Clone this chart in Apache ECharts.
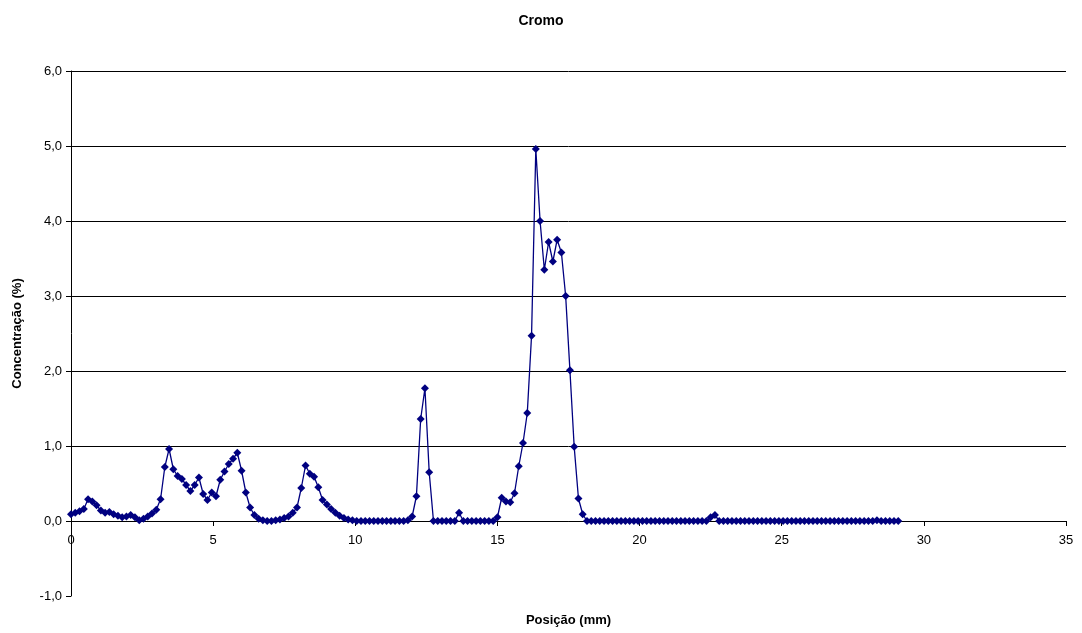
<!DOCTYPE html>
<html>
<head>
<meta charset="utf-8">
<script src="https://cdn.jsdelivr.net/npm/echarts@6/dist/echarts.min.js"></script>
<style>
html,body{margin:0;padding:0;background:#fff;}
#chart{width:1082px;height:633px;}
</style>
</head>
<body>
<div id="chart"></div>
<script>
// Sampling of the position axis (mm): first point and step between points
const positionStart = 0;
const positionStep = 0.15;

// Concentração (%), one value per sample
const concentration = [
  0.09,0.11,0.13,0.16,0.29,0.26,0.21,0.14,0.11,0.12,
  0.09,0.07,0.05,0.06,0.08,0.05,0.01,0.03,0.06,0.10,
  0.15,0.29,0.72,0.96,0.69,0.60,0.56,0.48,0.40,0.48,
  0.58,0.36,0.28,0.38,0.33,0.55,0.66,0.76,0.83,0.91,
  0.67,0.38,0.18,0.08,0.03,0.01,0.00,0.00,0.01,0.02,
  0.04,0.06,0.11,0.18,0.44,0.74,0.63,0.59,0.45,0.28,
  0.22,0.16,0.11,0.07,0.04,0.02,0.01,0,0,0,
  0,0,0,0,0,0,0,0,0,0.01,
  0.06,0.33,1.36,1.77,0.65,0,0,0,0,0,
  0,0.11,0,0,0,0,0,0,0,0,
  0.05,0.31,0.26,0.25,0.37,0.73,1.04,1.44,2.47,4.96,
  4.00,3.35,3.72,3.46,3.75,3.58,3.00,2.01,0.99,0.30,
  0.09,0,0,0,0,0,0,0,0,0,
  0,0,0,0,0,0,0,0,0,0,
  0,0,0,0,0,0,0,0,0,0,
  0.05,0.08,0,0,0,0,0,0,0,0,
  0,0,0,0,0,0,0,0,0,0,
  0,0,0,0,0,0,0,0,0,0,
  0,0,0,0,0,0,0,0,0,0.01,
  0,0,0,0,0
];

const xTicks = [0, 5, 10, 15, 20, 25, 30, 35];
const yTicks = [-1, 0, 1, 2, 3, 4, 5, 6];

const titleText = 'Cromo';
const xName = 'Posição (mm)';
const yName = 'Concentração (%)';

const points = concentration.map((v, i) => [
  +(positionStart + i * positionStep).toFixed(2), v
]);

const font = 'Arial, "Liberation Sans", sans-serif';
const xMin = xTicks[0], xMax = xTicks[xTicks.length - 1];
const yMin = yTicks[0], yMax = yTicks[yTicks.length - 1];
// pixel height of the plot and position of the zero line, so the
// labelled x axis (second grid) sits exactly on y = 0
const plotTop = 71, plotBottom = 37, H = 633;
const plotH = H - plotTop - plotBottom;
const zeroFromBottom = plotBottom + plotH * (0 - yMin) / (yMax - yMin);

const chart = echarts.init(document.getElementById('chart'));
chart.setOption({
  animation: false,
  backgroundColor: '#fff',
  title: {
    text: titleText,
    left: 'center',
    top: 9,
    textStyle: {fontFamily: font, fontSize: 14, fontWeight: 'bold', color: '#000'}
  },
  grid: [
    {left: 71, right: 16, top: plotTop, bottom: plotBottom, containLabel: false, outerBoundsMode: 'none'},
    {left: 71, right: 16, top: plotTop, bottom: zeroFromBottom, containLabel: false, outerBoundsMode: 'none'}
  ],
  xAxis: [{
    gridIndex: 0,
    type: 'value',
    min: xMin, max: xMax, interval: 5,
    name: xName,
    nameLocation: 'middle',
    nameGap: 18,
    nameTextStyle: {fontFamily: font, fontSize: 13, fontWeight: 'bold', color: '#000'},
    axisLine: {show: false, onZero: false},
    axisTick: {show: false},
    axisLabel: {show: false},
    splitLine: {show: false}
  }, {
    gridIndex: 1,
    type: 'value',
    min: xMin, max: xMax, interval: 5,
    axisLine: {show: true, onZero: false, lineStyle: {color: '#000', width: 1}},
    axisTick: {show: true, length: 5, lineStyle: {color: '#000'}},
    axisLabel: {fontFamily: font, fontSize: 13, color: '#000', margin: 13},
    splitLine: {show: false}
  }],
  yAxis: [{
    gridIndex: 0,
    type: 'value',
    min: yMin, max: yMax, interval: 1,
    name: yName,
    nameLocation: 'middle',
    nameGap: 47,
    nameRotate: 90,
    nameTextStyle: {fontFamily: font, fontSize: 13, fontWeight: 'bold', color: '#000'},
    axisLine: {show: true, onZero: false, lineStyle: {color: '#000', width: 1}},
    axisTick: {show: true, length: 5, lineStyle: {color: '#000'}},
    axisLabel: {
      fontFamily: font, fontSize: 13, color: '#000', margin: 9,
      formatter: v => v.toFixed(1).replace('.', ',')
    },
    splitLine: {
      show: true,
      lineStyle: {color: ['rgba(0,0,0,0)', '#000', '#000', '#000', '#000', '#000', '#000', '#000'], width: 1}
    }
  }, {
    gridIndex: 1,
    type: 'value',
    min: 0, max: 1,
    show: false
  }],
  series: [{
    type: 'line',
    xAxisIndex: 0,
    yAxisIndex: 0,
    data: points,
    symbol: 'path://M0,-1L1,0L0,1L-1,0Z',
    symbolSize: 8,
    showAllSymbol: true,
    lineStyle: {color: '#000080', width: 1.3},
    itemStyle: {color: '#000080'},
    z: 5
  }]
});
</script>
</body>
</html>
